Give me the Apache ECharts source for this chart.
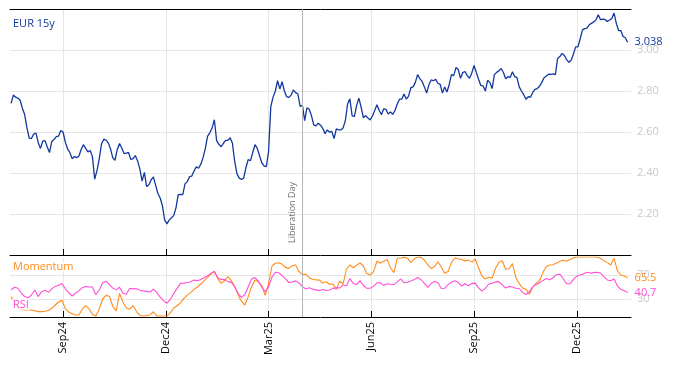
<!DOCTYPE html>
<html><head><meta charset="utf-8">
<script src="https://cdn.jsdelivr.net/npm/echarts@6/dist/echarts.min.js"></script>
<style>html,body{margin:0;padding:0;background:#fff}#c{width:674px;height:366px}</style>
</head><body><div id="c"></div><script>
// ---- data ----
const startDate = '2024-07-18';
const axisStart = '2024-07-17';
const axisEnd = '2026-01-18';
const eurStepDays = 2;
const eur15y = [2.74,2.78,2.77,2.765,2.755,2.715,2.685,2.62,2.57,2.568,
2.59,2.595,2.548,2.52,2.555,2.558,2.527,2.50,2.554,2.563,
2.577,2.58,2.607,2.60,2.55,2.518,2.50,2.47,2.48,2.475,
2.482,2.515,2.538,2.52,2.503,2.51,2.48,2.37,2.41,2.468,
2.54,2.565,2.56,2.547,2.518,2.475,2.462,2.515,2.544,2.522,
2.495,2.497,2.50,2.466,2.47,2.485,2.459,2.42,2.36,2.403,
2.334,2.343,2.366,2.381,2.34,2.30,2.278,2.24,2.17,2.152,
2.17,2.182,2.192,2.23,2.295,2.296,2.295,2.347,2.358,2.382,
2.385,2.41,2.43,2.423,2.443,2.475,2.52,2.58,2.596,2.62,
2.66,2.558,2.54,2.528,2.545,2.559,2.559,2.572,2.545,2.457,
2.397,2.375,2.368,2.375,2.427,2.466,2.46,2.50,2.538,2.52,
2.484,2.45,2.435,2.431,2.505,2.725,2.77,2.80,2.85,2.81,
2.846,2.80,2.773,2.769,2.78,2.805,2.792,2.785,2.725,2.73,
2.655,2.718,2.711,2.68,2.635,2.63,2.643,2.633,2.618,2.592,
2.61,2.60,2.603,2.568,2.615,2.61,2.61,2.62,2.655,2.737,
2.762,2.68,2.675,2.73,2.765,2.72,2.67,2.68,2.668,2.659,
2.678,2.705,2.733,2.705,2.685,2.713,2.71,2.688,2.698,2.686,
2.706,2.737,2.76,2.76,2.785,2.76,2.775,2.816,2.82,2.842,
2.88,2.86,2.847,2.82,2.79,2.83,2.854,2.85,2.857,2.838,
2.832,2.79,2.82,2.795,2.832,2.88,2.875,2.915,2.905,2.862,
2.89,2.895,2.875,2.862,2.888,2.925,2.89,2.857,2.827,2.824,
2.80,2.852,2.842,2.812,2.88,2.891,2.898,2.91,2.89,2.86,
2.87,2.866,2.894,2.87,2.865,2.82,2.80,2.782,2.76,2.772,
2.77,2.793,2.808,2.812,2.823,2.842,2.865,2.873,2.882,2.881,
2.883,2.88,2.959,2.968,2.983,2.973,2.953,2.94,2.95,2.98,
3.015,3.015,3.055,3.098,3.104,3.107,3.123,3.13,3.137,3.147,
3.172,3.148,3.15,3.149,3.139,3.146,3.154,3.18,3.13,3.095,
3.095,3.066,3.06,3.038];
const indStepDays = 3;
const momentum = [34,25,17,13,11.7,11.7,11.7,10.5,9,9,
9.5,10.7,14.5,20,25,28,14,8.5,5.5,3.3,
3.3,13,19,14,4,1.7,13,30,36,34.5,
18,10,39.4,25,15,13,19,9,2.8,1.7,
2.5,3.3,8.8,1.7,1.7,1.7,2,6.8,15,18.7,
23.6,31,36.5,40.6,46,50,55,60.6,66.2,72,
75.6,64,56,60.5,67.5,60.5,51,37,26,20,
34,51,61.5,58.7,52.5,36,55,85,89.5,90.3,
87.8,82.7,81,85.5,86.7,75.5,70.5,71.4,65.5,63,
61.8,61.7,56.5,58.7,54.5,55,46,60,55,80,
86.7,82,86.5,90,85,72.5,70,75.5,93,90,
93,96,82,74,97.8,98.3,99.4,98,90.5,97,
99.8,99.4,95.2,86.7,81,84,92,83.3,72.9,76,
91,98.3,97,95.8,93.5,94.8,91.5,97,82,68,
63.2,66.4,64.8,81,91.2,93.7,79.6,80.8,89,66,
56,48.4,46.1,38,50,56.3,60.3,74,84.3,86.7,
87.2,89.8,92.8,94.5,92.8,95.7,98.5,100,100,100,
100,100,100,99.5,97.9,94,90.6,86.7,97.8,77,
70,68.2,65.5];
const rsi = [45,49.5,48,39.6,34,32,36.7,45,34,42,
44.7,41,47,51,53,55.8,47,40.5,35,39.7,
43.5,48.8,51,50,50,37,45,56.5,59.7,54,
48.3,45.2,49.7,39.6,38,47.8,46.9,47,44.6,43.6,
42.7,41.6,46.3,41,33,27.4,23,29.5,39,47.8,
56,56.5,57.5,58.8,61.5,60.3,62.6,65.3,68.6,72.6,
76.4,65.3,62.7,62.3,59,57.7,51,39,32.8,37.5,
50.5,63.5,65.6,59.6,49.8,42.4,49.8,66.4,74.6,73.7,
68.9,63.4,57.5,58.3,60.2,56.8,50.6,46.7,48.9,46.5,
45.2,44,45.9,44.1,44.9,47.7,48.5,48.5,53.2,52,
64,55.8,54,60.7,52.5,47.8,47.8,51.5,57,57,
52.4,55.4,54.6,54,58.2,63.6,57,57.8,60,62.6,
65.8,62.5,56,49.4,56.1,59,57,47.6,47.8,54,
58,60.4,57.5,51.6,55.3,52,56,56.4,48.6,43,
47.8,55,56.1,58.5,58.9,53.8,48.3,51,50,48,
47.5,41,37.5,42,50.2,54,56.8,61,64,62,
65.4,70.5,71.4,63.8,55.4,55.3,62.6,67.9,70,71.9,
74.6,73.2,73.9,74.6,73.2,67.4,61.8,60.3,63.5,51.5,
46,43.8,40.7];
const tickDates = ['2024-09-02','2024-12-02','2025-03-03','2025-06-02','2025-09-01','2025-12-01'];
const tickLabels = ['Sep24','Dec24','Mar25','Jun25','Sep25','Dec25'];
const eventDate = '2025-04-02';
const eventLabel = 'Liberation Day';
const indLevels = [30, 70];

// ---- build ----
const DAY = 86400000;
const t = s => { const p = s.split('-').map(Number); return Date.UTC(p[0], p[1]-1, p[2]); };
const pairs = (vals, step) => { const s0 = t(startDate); return vals.map((v,i) => [s0 + i*step*DAY, v]); };
const tickTs = tickDates.map(t);
const tickName = v => { let b=0; tickTs.forEach((x,i)=>{ if (Math.abs(x-v) < Math.abs(tickTs[b]-v)) b=i; }); return tickLabels[b]; };
const BLUE = '#1238a0', ORANGE = '#ff8c1a', MAG = '#ff4fd6';
const GRID = '#e6e6e6';
const FONT = 'Open Sans';
const xMin = t(axisStart), xMax = t(axisEnd);

const xBase = (gi, showLabels) => ({
  type:'value', gridIndex:gi, min:xMin, max:xMax, position:'bottom', scale:true,
  axisLine:{show:true, lineStyle:{color:'#000', width:1}},
  axisTick:{show:true, inside:true, length:6, lineStyle:{color:'#000'}, customValues: tickTs},
  axisLabel: showLabels ? {show:true, rotate:90, customValues: tickTs, formatter: v => tickName(v), color:'#000', fontSize:11, margin:5, fontFamily:FONT}
                        : {show:false, customValues: tickTs},
  splitLine:{show:true, lineStyle:{color:GRID, width:1}}
});

const evLine = (withLabel) => ({
  symbol:'none', silent:true, animation:false,
  lineStyle:{color:'#b4b4b4', width:1, type:'solid'},
  label: withLabel ? {show:true, formatter:eventLabel, position:'insideStartTop', color:'#6e6e6e', fontSize:9, fontFamily:FONT, distance:[12,5]} : {show:false},
  emphasis:{disabled:true},
  data:[{xAxis: t(eventDate)}]
});

const option = {
  animation:false,
  textStyle:{fontFamily:FONT},
  title:[
    {text:'EUR 15y', left:13, top:18, padding:0, textStyle:{color:BLUE, fontSize:11, fontWeight:'normal', fontFamily:FONT}},
    {text:'Momentum', left:12, top:261, padding:[0,1], backgroundColor:'rgba(255,255,255,0.7)', textStyle:{color:ORANGE, fontSize:11, fontWeight:'normal', fontFamily:FONT}},
    {text:'RSI', left:12, top:299, padding:[0,1], backgroundColor:'rgba(255,255,255,0.7)', textStyle:{color:MAG, fontSize:11, fontWeight:'normal', fontFamily:FONT}}
  ],
  grid:[
    {left:10, right:43, top:9, height:246},
    {left:10, right:43, top:257, height:60}
  ],
  xAxis:[
    xBase(0, false),
    xBase(1, true),
    {type:'value', gridIndex:0, min:xMin, max:xMax, position:'top', scale:true,
     axisLine:{show:true, lineStyle:{color:'#000', width:1}}, axisTick:{show:false}, axisLabel:{show:false}, splitLine:{show:false}}
  ],
  yAxis:[
    {type:'value', gridIndex:0, position:'right', min:2.0, max:3.2, interval:0.2,
     axisLine:{show:false}, axisTick:{show:false},
     axisLabel:{color:'#c8c8c8', fontSize:11, margin:6, fontFamily:FONT, formatter: v => (v > 2.01 && v < 3.19) ? v.toFixed(2) : ''},
     splitLine:{show:true, lineStyle:{color:GRID, width:1}}},
    {type:'value', gridIndex:1, position:'right', min:0, max:100,
     axisLine:{show:false}, axisTick:{show:false, customValues:indLevels},
     axisLabel:{color:'#c8c8c8', fontSize:11, margin:6, fontFamily:FONT, customValues:indLevels},
     splitLine:{show:true, lineStyle:{color:GRID, width:1}}}
  ],
  series:[
    {name:'EUR 15y', type:'line', xAxisIndex:0, yAxisIndex:0, data:pairs(eur15y, eurStepDays),
     symbol:'none', showSymbol:false, z:3,
     lineStyle:{color:BLUE, width:1.3}, itemStyle:{color:BLUE},
     endLabel:{show:true, formatter: p => p.value[1].toFixed(3), color:BLUE, fontSize:11, distance:7, fontFamily:FONT},
     markLine: evLine(true)},
    {name:'Momentum', type:'line', xAxisIndex:1, yAxisIndex:1, data:pairs(momentum, indStepDays),
     symbol:'none', showSymbol:false, z:3,
     lineStyle:{color:ORANGE, width:1.1}, itemStyle:{color:ORANGE},
     endLabel:{show:true, formatter: p => p.value[1].toFixed(1), color:ORANGE, fontSize:11, distance:7, fontFamily:FONT},
     markLine: evLine(false)},
    {name:'RSI', type:'line', xAxisIndex:1, yAxisIndex:1, data:pairs(rsi, indStepDays),
     symbol:'none', showSymbol:false, z:3,
     lineStyle:{color:MAG, width:1.1}, itemStyle:{color:MAG},
     endLabel:{show:true, formatter: p => p.value[1].toFixed(1), color:MAG, fontSize:11, distance:7, fontFamily:FONT}}
  ]
};
const chart = echarts.init(document.getElementById('c'), null, {renderer:'canvas'});
chart.setOption(option);
</script></body></html>
